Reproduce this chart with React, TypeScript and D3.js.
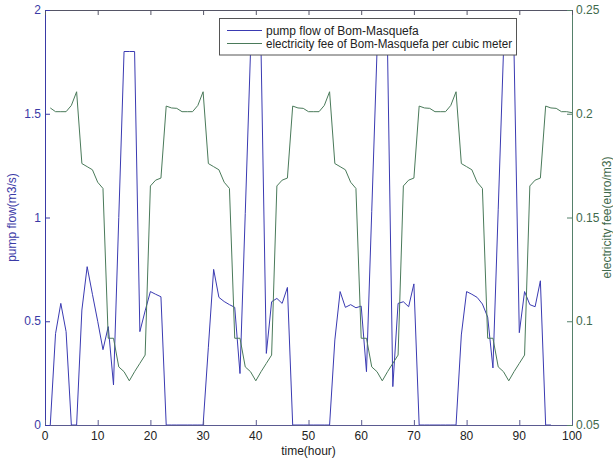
import React from "react";
import * as d3 from "d3";

const pumpHours: number[] = Array.from({ length: 96 }, (_, i) => i + 1);
const pumpFlow: number[] = [
  0, 0.44, 0.586, 0.45, 0, 0, 0.554, 0.763, 0.63, 0.5,
  0.363, 0.474, 0.193, 1.0, 1.8, 1.8, 1.8, 0.45, 0.55, 0.643,
  0.63, 0.618, 0, 0, 0, 0, 0, 0, 0, 0,
  0.375, 0.75, 0.615, 0.595, 0.58, 0.567, 0.248, 1.02, 1.8, 1.8,
  1.8, 0.345, 0.594, 0.61, 0.586, 0.663, 0, 0, 0, 0,
  0, 0, 0, 0, 0.41, 0.643, 0.567, 0.58, 0.565, 0.573,
  0.257, 1.03, 1.8, 1.8, 1.8, 0.185, 0.586, 0.594, 0.57, 0.68,
  0, 0, 0, 0, 0, 0, 0, 0, 0.434, 0.643,
  0.63, 0.615, 0.583, 0.52, 0.275, 1.04, 1.8, 1.8, 1.8, 0.445,
  0.643, 0.58, 0.57, 0.695, 0, 0,
];

const feeHours: number[] = Array.from({ length: 100 }, (_, i) => i + 1);
const electricityFee: number[] = [
  0.2028, 0.201, 0.201, 0.201, 0.204, 0.2106, 0.176, 0.1745, 0.173, 0.167,
  0.164, 0.0918, 0.0918, 0.078, 0.0757, 0.0713, 0.0757, 0.0797, 0.0837, 0.1652,
  0.168, 0.169, 0.2037, 0.2028, 0.2026, 0.201, 0.201, 0.201, 0.204, 0.2106,
  0.176, 0.1745, 0.173, 0.167, 0.164, 0.0918, 0.0918, 0.078, 0.0757, 0.0713,
  0.0757, 0.0797, 0.0837, 0.1652, 0.168, 0.169, 0.2037, 0.2028, 0.2026, 0.201,
  0.201, 0.201, 0.204, 0.2106, 0.176, 0.1745, 0.173, 0.167, 0.164, 0.0918,
  0.0918, 0.078, 0.0757, 0.0713, 0.0757, 0.0797, 0.0837, 0.1652, 0.168, 0.169,
  0.2037, 0.2028, 0.2026, 0.201, 0.201, 0.201, 0.204, 0.2106, 0.176, 0.1745,
  0.173, 0.167, 0.164, 0.0918, 0.0918, 0.078, 0.0757, 0.0713, 0.0757, 0.0797,
  0.0837, 0.1652, 0.168, 0.169, 0.2037, 0.2028, 0.2026, 0.201, 0.201, 0.2005,
];

const xTicks: number[] = [0, 10, 20, 30, 40, 50, 60, 70, 80, 90, 100];
const leftTicks: number[] = [0, 0.5, 1, 1.5, 2];
const leftTickLabels: string[] = ["0", "0.5", "1", "1.5", "2"];
const rightTicks: number[] = [0.05, 0.1, 0.15, 0.2, 0.25];
const rightTickLabels: string[] = ["0.05", "0.1", "0.15", "0.2", "0.25"];

const legendLabels: string[] = [
  "pump flow of Bom-Masquefa",
  "electricity fee of Bom-Masquefa per cubic meter",
];

const W = 613;
const H = 460;
const L = 45;
const R = 572;
const T = 10;
const B = 425;

const BLUE = "#3a3ab2";
const GREEN = "#4a7a5a";
const BLUE_TXT = "#3a3aa6";
const GREEN_TXT = "#3f6a4c";
const FONT = "Liberation Sans, Arial, Helvetica, sans-serif";

export default function App() {
  const x = d3.scaleLinear().domain([0, 100]).range([L, R]);
  const yL = d3.scaleLinear().domain([0, 2]).range([B, T]);
  const yR = d3.scaleLinear().domain([0.05, 0.25]).range([B, T]);

  const pumpLine = d3
    .line<number>()
    .x((_, i) => x(pumpHours[i]))
    .y((d) => yL(d));
  const feeLine = d3
    .line<number>()
    .x((_, i) => x(feeHours[i]))
    .y((d) => yR(d));

  const tl = 5;

  return (
    <svg
      width={W}
      height={H}
      style={{ position: "absolute", left: 0, top: 0, background: "#fff" }}
      fontFamily={FONT}
    >
      <rect x={0} y={0} width={W} height={H} fill="#fff" />
      {/* data lines */}
      <path d={pumpLine(pumpFlow) || ""} fill="none" stroke={BLUE} strokeWidth={1} />
      <path d={feeLine(electricityFee) || ""} fill="none" stroke={GREEN} strokeWidth={1} />

      {/* frame */}
      <line x1={L} x2={R} y1={T + 0.5} y2={T + 0.5} stroke="#555566" strokeWidth={1} />
      <line x1={L} x2={R} y1={B + 0.5} y2={B + 0.5} stroke="#5a5a90" strokeWidth={1} />
      <line x1={L + 0.5} x2={L + 0.5} y1={T} y2={B + 1} stroke={BLUE_TXT} strokeWidth={1} />
      <line x1={R + 0.5} x2={R + 0.5} y1={T} y2={B + 1} stroke="#55806a" strokeWidth={1} />

      {/* x ticks */}
      {xTicks.map((t) => (
        <g key={"x" + t}>
          <line x1={x(t) + 0.5} x2={x(t) + 0.5} y1={B} y2={B - tl} stroke="#5a5a90" />
          <line x1={x(t) + 0.5} x2={x(t) + 0.5} y1={T} y2={T + tl} stroke="#555566" />
          <text x={x(t)} y={B + 15} fontSize={12} textAnchor="middle" fill="#222">
            {t}
          </text>
        </g>
      ))}

      {/* left ticks */}
      {leftTicks.map((t, i) => (
        <g key={"l" + t}>
          <line x1={L} x2={L + tl} y1={yL(t) + 0.5} y2={yL(t) + 0.5} stroke={BLUE_TXT} />
          <text x={L - 4} y={yL(t) + 4} fontSize={12} textAnchor="end" fill={BLUE_TXT}>
            {leftTickLabels[i]}
          </text>
        </g>
      ))}

      {/* right ticks */}
      {rightTicks.map((t, i) => (
        <g key={"r" + t}>
          <line x1={R - tl} x2={R} y1={yR(t) + 0.5} y2={yR(t) + 0.5} stroke="#55806a" />
          <text x={R + 4} y={yR(t) + 4} fontSize={12} textAnchor="start" fill={GREEN_TXT}>
            {rightTickLabels[i]}
          </text>
        </g>
      ))}

      {/* axis labels */}
      <text x={(L + R) / 2} y={455} fontSize={12} textAnchor="middle" fill="#222">
        time(hour)
      </text>
      <text
        transform={`translate(16,${(T + B) / 2}) rotate(-90)`}
        fontSize={12}
        textAnchor="middle"
        fill={BLUE_TXT}
      >
        pump flow(m3/s)
      </text>
      <text
        transform={`translate(611,${(T + B) / 2}) rotate(-90)`}
        fontSize={12}
        textAnchor="middle"
        fill={GREEN_TXT}
      >
        electricity fee(euro/m3)
      </text>

      {/* legend */}
      <rect x={219.5} y={18.5} width={297} height={36.5} fill="#fff" stroke="#555" strokeWidth={1} />
      <line x1={227} x2={262} y1={30.5} y2={30.5} stroke={BLUE} />
      <line x1={227} x2={262} y1={43.5} y2={43.5} stroke={GREEN} />
      <text x={266} y={34.5} fontSize={12} fill="#222">
        {legendLabels[0]}
      </text>
      <text x={266} y={47.5} fontSize={12} fill="#222" textLength={246} lengthAdjust="spacingAndGlyphs">
        {legendLabels[1]}
      </text>
    </svg>
  );
}
